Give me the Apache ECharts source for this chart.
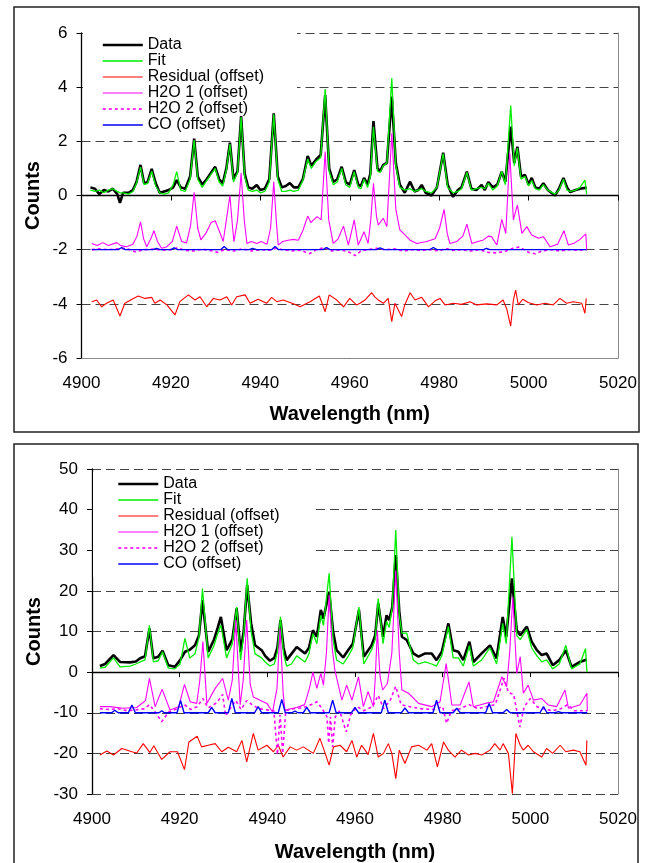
<!DOCTYPE html>
<html>
<head>
<meta charset="utf-8">
<script src="https://cdn.jsdelivr.net/npm/echarts@6/dist/echarts.min.js"></script>
<style>
html,body{margin:0;padding:0;background:#fff;}
#chart{width:647px;height:863px;}
</style>
</head>
<body>
<div id="chart"></div>
<script>
// ---------- data (wavelength nm, counts) ----------
const seriesNames = ['Data', 'Fit', 'Residual (offset)', 'H2O 1 (offset)', 'H2O 2 (offset)', 'CO (offset)'];
const xTicks = { min: 4900, max: 5020, step: 20 };
const topYTicks = { min: -6, max: 6, step: 2 };
const bottomYTicks = { min: -30, max: 50, step: 10 };

// ----- top panel -----
const topData = [[4902,0.30],[4903,0.25],[4904,0.05],[4905,0.2],[4906,0.15],[4907,0.25],[4908,0.05],[4908.6,-0.27],[4909.3,0.1],[4910.5,0.1],[4911.5,0.2],[4912.3,0.5],[4913.2,1.13],[4914,0.45],[4914.8,0.5],[4915.7,0.98],[4916.6,0.45],[4917.5,0.1],[4918.5,0.15],[4919.5,0.2],[4920.5,0.3],[4921.3,0.57],[4922.2,0.3],[4923.2,0.25],[4924.3,0.7],[4925.2,2.1],[4926,0.7],[4927,0.4],[4928,0.6],[4929.9,1.06],[4930.8,0.6],[4931.6,0.45],[4932.4,1.0],[4933.2,1.95],[4934,0.6],[4934.9,0.9],[4935.7,2.93],[4936.5,0.8],[4937.3,0.3],[4938.2,0.25],[4939.2,0.39],[4940,0.2],[4941,0.25],[4942,0.6],[4943,3.03],[4943.9,0.7],[4944.8,0.3],[4945.7,0.35],[4946.6,0.46],[4947.5,0.3],[4948.5,0.3],[4949.5,0.6],[4950.6,1.46],[4951.4,1.1],[4952.4,1.31],[4953.5,1.5],[4954.5,3.71],[4955.4,1.0],[4956.3,0.5],[4957.2,0.6],[4958.2,1.06],[4959.1,0.5],[4960,0.4],[4961,0.94],[4961.9,0.4],[4962.5,0.35],[4963.2,0.65],[4964,0.4],[4964.6,0.8],[4965.3,2.75],[4966.2,1.0],[4966.8,0.9],[4967.5,1.13],[4968.3,1.2],[4969.4,3.65],[4970.3,1.2],[4971.2,0.4],[4972.3,0.1],[4973.5,0.51],[4974.5,0.15],[4975.3,0.2],[4976.1,0.39],[4977,0.1],[4978.3,0.0],[4979.5,0.3],[4980.9,1.58],[4981.9,0.4],[4983.1,-0.05],[4984.2,0.2],[4985,0.3],[4986.2,0.88],[4987.2,0.25],[4988.3,0.2],[4989.5,0.39],[4990.2,0.2],[4991,0.5],[4992,0.3],[4993,0.4],[4994,0.88],[4994.8,0.5],[4996,2.54],[4996.8,1.2],[4997.5,1.8],[4998.3,0.7],[4999.2,0.76],[5000,0.4],[5000.7,0.65],[5001.5,0.3],[5002.4,0.25],[5003.3,0.45],[5004.3,0.2],[5005.9,0.0],[5006.8,0.25],[5007.8,0.65],[5008.6,0.3],[5009.3,0.13],[5010.5,0.2],[5011.5,0.25],[5013,0.29]];
const topFit = [[4902,0.2],[4903,0.15],[4904,0.2],[4905,0.1],[4906,0.2],[4907,0.25],[4908,0.15],[4908.6,0.1],[4909.3,0.1],[4910.5,0.05],[4911.5,0.15],[4912.3,0.45],[4913.2,1.05],[4914,0.4],[4914.8,0.45],[4915.7,0.9],[4916.6,0.35],[4917.5,0.1],[4918.5,0.05],[4919.5,0.1],[4920.5,0.4],[4921.3,0.88],[4922.2,0.2],[4923.2,0.15],[4924.3,0.6],[4925.2,2.05],[4926,0.6],[4927,0.3],[4928,0.55],[4929.9,1.0],[4930.8,0.5],[4931.6,0.35],[4932.4,0.95],[4933.2,1.9],[4934,0.5],[4934.9,0.85],[4935.7,2.9],[4936.5,0.7],[4937.3,0.2],[4938.2,0.15],[4939.2,0.2],[4940,0.1],[4941,0.15],[4942,0.5],[4943,3.0],[4943.9,0.6],[4944.8,0.15],[4945.7,0.15],[4946.6,0.2],[4947.5,0.15],[4948.5,0.2],[4949.5,0.55],[4950.6,1.35],[4951.4,1.0],[4952.4,1.25],[4953.5,1.4],[4954.5,3.93],[4955.4,0.9],[4956.3,0.4],[4957.2,0.5],[4958.2,1.0],[4959.1,0.4],[4960,0.3],[4961,0.88],[4961.9,0.3],[4962.5,0.25],[4963.2,0.6],[4964,0.3],[4964.6,0.7],[4965.3,2.54],[4966.2,0.9],[4966.8,0.85],[4967.5,1.1],[4968.3,1.2],[4969.4,4.33],[4970.3,1.1],[4971.2,0.3],[4972.3,0.2],[4973.5,0.25],[4974.5,0.15],[4975.3,0.2],[4976.1,0.25],[4977,0.15],[4978.3,0.1],[4979.5,0.3],[4980.9,1.55],[4981.9,0.3],[4983.1,0.1],[4984.2,0.15],[4985,0.25],[4986.2,0.85],[4987.2,0.2],[4988.3,0.25],[4989.5,0.3],[4990.2,0.25],[4991,0.45],[4992,0.2],[4993,0.35],[4994,0.9],[4994.8,0.4],[4996,3.32],[4996.8,1.1],[4997.5,1.75],[4998.3,0.6],[4999.2,0.7],[5000,0.35],[5000.7,0.55],[5001.5,0.25],[5002.4,0.2],[5003.3,0.4],[5004.3,0.2],[5005.9,0.05],[5006.8,0.2],[5007.8,0.6],[5008.6,0.2],[5009.3,0.15],[5010.5,0.2],[5011.5,0.3],[5012.6,0.57],[5013,0.05]];
const topResidual = [[4902.3,-3.92],[4903.4,-3.86],[4904.5,-4.11],[4905.6,-3.98],[4907.1,-3.86],[4908.6,-4.45],[4909.7,-3.98],[4911.6,-3.8],[4912.7,-3.71],[4914.2,-3.8],[4915.7,-3.76],[4916.4,-3.98],[4917.6,-3.86],[4919.1,-4.04],[4920.9,-4.41],[4922,-3.92],[4923.9,-3.67],[4925.4,-3.86],[4926.5,-3.74],[4928,-4.11],[4929.5,-3.8],[4931,-3.86],[4932.5,-3.74],[4933.6,-4.04],[4934.7,-3.74],[4936.6,-3.67],[4937.7,-3.98],[4939.5,-3.83],[4941.4,-3.98],[4942.5,-3.76],[4943.7,-3.92],[4945.1,-3.86],[4947.4,-4.0],[4948.9,-4.11],[4951.1,-3.92],[4953.2,-3.71],[4954.5,-4.29],[4955.4,-3.67],[4957.1,-3.86],[4958.6,-4.11],[4960,-3.8],[4961.5,-4.04],[4962.3,-3.98],[4963.4,-3.86],[4964.9,-3.59],[4965.6,-3.74],[4966.4,-3.86],[4967.5,-3.98],[4968.6,-3.8],[4969.4,-4.66],[4970.1,-3.98],[4971.6,-4.47],[4972.3,-4.04],[4973.5,-3.59],[4974.6,-3.86],[4976.1,-3.76],[4977.6,-4.11],[4979.1,-3.89],[4980.2,-3.8],[4981.3,-4.04],[4983.2,-3.98],[4985,-4.02],[4986.9,-3.92],[4988.4,-4.04],[4990.6,-4.0],[4992.9,-4.04],[4994.3,-3.86],[4995.1,-4.18],[4996,-4.82],[4996.6,-3.86],[4997.1,-3.49],[4997.7,-4.04],[4998.7,-3.83],[4999.9,-3.95],[5001.8,-4.04],[5003.7,-3.98],[5005.5,-4.04],[5007,-3.8],[5008.5,-3.98],[5010,-3.92],[5011.9,-3.98],[5012.6,-4.35],[5012.9,-3.8]];
const topH2O1 = [[4902.3,-1.77],[4903.5,-1.85],[4904.8,-1.74],[4906,-1.85],[4907.9,-1.74],[4908.8,-1.85],[4910.1,-1.89],[4911.5,-1.8],[4912.4,-1.5],[4913.2,-0.97],[4913.9,-1.6],[4914.6,-1.89],[4915.5,-1.6],[4916.2,-1.3],[4917,-1.7],[4917.9,-1.95],[4919,-1.9],[4920.3,-1.7],[4921.3,-1.13],[4922.4,-1.7],[4923.5,-1.75],[4924.4,-1.1],[4925.2,0.12],[4926,-1.2],[4926.7,-1.64],[4927.8,-1.4],[4929,-1.0],[4929.9,-0.93],[4930.8,-1.3],[4931.7,-1.7],[4932.4,-0.9],[4933.2,0.0],[4933.8,-1.2],[4934.1,-1.7],[4934.9,-0.9],[4935.7,0.83],[4936.4,-0.9],[4937,-1.77],[4938,-1.7],[4939.2,-1.77],[4940.2,-1.7],[4941.5,-1.8],[4942.3,-1.2],[4943,0.51],[4943.6,-1.0],[4944,-1.83],[4945,-1.7],[4946.2,-1.65],[4947.4,-1.62],[4948.5,-1.65],[4949.5,-1.3],[4950.6,-0.76],[4951.3,-1.0],[4951.9,-0.9],[4952.7,-0.78],[4953.6,-0.9],[4954.5,1.62],[4955.3,-0.9],[4956.3,-1.77],[4957.4,-1.6],[4958.6,-1.13],[4959.7,-1.83],[4961,-0.9],[4961.9,-1.83],[4963.2,-1.34],[4964.1,-1.77],[4964.7,-0.9],[4965.3,0.45],[4966,-0.8],[4966.4,-1.09],[4967.5,-0.84],[4968.3,-1.15],[4969.4,2.3],[4970.3,-0.5],[4971.2,-1.27],[4972,-1.4],[4973.5,-1.65],[4975,-1.77],[4977.2,-1.7],[4979.1,-1.6],[4980.1,-1.2],[4981.1,-0.51],[4981.8,-1.4],[4982.4,-1.77],[4983.9,-1.7],[4985.3,-1.5],[4986.2,-1.06],[4987.3,-1.77],[4988.7,-1.7],[4989.9,-1.64],[4991,-1.5],[4991.7,-1.52],[4992.9,-1.83],[4994,-0.88],[4994.9,-1.4],[4995.8,1.56],[4996.6,-0.9],[4997.5,-0.35],[4998.5,-1.4],[4999.6,-1.15],[5000.7,-1.46],[5002.2,-1.58],[5003.3,-1.52],[5004.8,-1.89],[5006.5,-1.8],[5007.9,-1.3],[5008.9,-1.83],[5010.3,-1.75],[5011.5,-1.62],[5012.8,-1.42],[5013,-2.0]];
const topH2O2 = [[4902.3,-2.0],[4904,-1.97],[4906,-2.0],[4908,-1.97],[4910,-1.95],[4912,-2.08],[4914,-2.0],[4916,-1.98],[4918,-2.02],[4920,-2.0],[4921.5,-1.93],[4923,-2.02],[4925,-2.05],[4927,-1.98],[4929,-2.04],[4930.5,-2.1],[4932,-2.0],[4934,-2.05],[4936,-1.97],[4938,-2.05],[4940,-2.0],[4942,-2.02],[4943.5,-1.95],[4945,-2.0],[4947,-2.05],[4949,-2.02],[4951,-2.15],[4952.5,-2.0],[4954.5,-1.92],[4956,-2.05],[4958,-2.0],[4960,-2.1],[4961.2,-2.22],[4962.5,-2.05],[4964,-2.0],[4966,-1.95],[4968,-2.0],[4970,-1.97],[4972,-2.05],[4974,-2.0],[4976,-2.03],[4978,-2.0],[4980,-2.05],[4981.5,-1.95],[4983,-2.03],[4985,-2.0],[4987,-2.05],[4989,-2.0],[4991,-2.1],[4993,-2.12],[4995,-2.05],[4996.5,-1.95],[4998,-1.9],[5000,-2.1],[5001.5,-2.15],[5003,-2.05],[5005,-2.0],[5007,-2.05],[5009,-2.0],[5011,-2.02],[5013,-2.0]];
const topCO = [[4902.3,-2.0],[4908.2,-2.0],[4909,-1.92],[4909.8,-2.0],[4916,-2.0],[4916.8,-1.95],[4917.6,-2.0],[4920,-2.0],[4920.7,-1.93],[4921.5,-2.0],[4931.1,-2.0],[4931.9,-1.88],[4932.7,-2.0],[4937.5,-2.0],[4938.3,-1.95],[4939.1,-2.0],[4942.5,-2.0],[4943.3,-1.88],[4944.1,-2.0],[4954,-2.0],[4954.8,-1.92],[4955.6,-2.0],[4966,-2.0],[4966.8,-1.93],[4967.6,-2.0],[4977.9,-2.0],[4978.7,-1.92],[4979.5,-2.0],[4989.9,-2.0],[4990.6,-1.95],[4991.3,-2.0],[5013,-2.0]];

// ----- bottom panel -----
const bottomData = [[4901.8,1.5],[4903,2.0],[4904.9,4.2],[4906.4,2.5],[4908.7,2.4],[4910,2.6],[4911,3.4],[4912.1,3.9],[4913.1,10.75],[4914,3.4],[4915.1,3.8],[4916.1,5.25],[4917.4,1.7],[4918.9,1.3],[4920.1,2.95],[4921.2,5.0],[4922.3,5.5],[4923.5,6.6],[4924.4,9.0],[4925.2,17.7],[4926.5,5.0],[4927.8,7.9],[4928.7,11.0],[4929.4,13.6],[4930.7,5.4],[4932,8.0],[4933,15.7],[4933.9,5.0],[4934.6,10.0],[4935.4,21.4],[4936.3,12.0],[4937.2,6.6],[4938.7,5.4],[4939.5,4.0],[4940.6,2.8],[4941.6,3.5],[4942.3,6.0],[4943,12.8],[4943.7,6.0],[4944.4,2.95],[4945.5,4.5],[4946.7,6.2],[4948.6,4.6],[4949.5,6.0],[4950.4,10.3],[4951.3,8.7],[4952.2,15.3],[4952.8,13.2],[4954.1,19.8],[4955,10.0],[4955.8,5.4],[4957.3,3.6],[4958.5,5.5],[4959.5,7.0],[4960.9,15.3],[4962,3.8],[4963.8,6.6],[4964.6,9.0],[4965.3,16.9],[4966.4,8.7],[4967.2,14.0],[4967.8,12.8],[4968.5,16.0],[4969.3,28.8],[4970.1,15.0],[4970.7,8.7],[4971.8,7.9],[4973.3,4.6],[4974.5,3.8],[4976,4.6],[4977.5,4.6],[4978.6,2.95],[4979.8,5.0],[4981.3,12.0],[4982.4,5.4],[4983.6,5.0],[4984.7,2.95],[4986.1,7.5],[4987,2.5],[4988.9,4.6],[4990.8,6.6],[4992.3,3.4],[4993.7,13.6],[4994.5,8.7],[4995.8,23.1],[4996.9,10.3],[4997.7,9.1],[4999.2,11.2],[5000.3,7.5],[5001.5,5.4],[5002.6,4.2],[5003.7,4.6],[5005.1,1.7],[5006.6,2.95],[5008.1,5.4],[5009.4,1.3],[5011.3,2.5],[5012.9,3.1]];
const bottomFit = [[4901.8,1.0],[4903,1.2],[4904.9,3.5],[4906.4,1.3],[4908.7,1.5],[4910,2.0],[4911,2.5],[4912.1,3.0],[4913.1,11.5],[4914,2.5],[4915.1,2.8],[4916.1,5.0],[4917.4,1.0],[4918.9,0.8],[4920.1,2.0],[4921.2,8.3],[4922.3,3.5],[4923.5,4.5],[4924.4,8.5],[4925.2,20.6],[4926.5,3.5],[4927.8,6.5],[4928.7,9.5],[4929.4,11.6],[4930.7,3.5],[4932,7.0],[4933,16.0],[4933.9,3.0],[4934.6,9.0],[4935.4,23.1],[4936.3,10.0],[4937.2,4.5],[4938.7,3.5],[4939.5,2.5],[4940.6,1.5],[4941.6,2.0],[4942.3,5.0],[4943,13.6],[4943.7,4.5],[4944.4,1.5],[4945.5,2.0],[4946.7,4.0],[4948.6,2.5],[4949.5,4.5],[4950.4,9.5],[4951.3,7.0],[4952.2,14.0],[4952.8,11.5],[4954.1,24.3],[4955,8.0],[4955.8,3.0],[4957.3,2.0],[4958.5,4.0],[4959.5,6.0],[4960.9,16.0],[4962,2.0],[4963.8,5.5],[4964.6,8.0],[4965.3,18.1],[4966.4,7.0],[4967.2,12.5],[4967.8,11.0],[4968.5,16.0],[4969.3,35.0],[4970.1,14.0],[4970.7,9.6],[4971.8,9.6],[4973.3,3.0],[4974.5,2.0],[4976,2.5],[4977.5,2.0],[4978.6,1.5],[4979.8,4.0],[4981.3,11.2],[4982.4,3.5],[4983.6,3.5],[4984.7,1.5],[4986.1,6.5],[4987,1.5],[4988.9,3.0],[4990.8,6.0],[4992.3,2.0],[4993.7,12.0],[4994.5,7.0],[4995.8,33.3],[4996.9,9.0],[4997.7,8.0],[4999.2,10.5],[5000.3,6.0],[5001.5,4.0],[5002.6,2.5],[5003.7,3.0],[5005.1,0.8],[5006.6,2.0],[5008.1,6.6],[5009.4,0.8],[5011.3,2.0],[5012.6,5.8],[5012.9,0.0]];
const bottomResidual = [[4901.8,-20.4],[4903.4,-19.4],[4904.9,-20.4],[4906.8,-18.8],[4909.1,-19.6],[4910.2,-19.9],[4911.7,-17.6],[4913.2,-19.8],[4914.1,-18.1],[4915.9,-21.5],[4917.8,-19.6],[4919.5,-19.6],[4921.1,-24.0],[4922.1,-17.2],[4924,-15.8],[4925,-18.4],[4926.5,-18.0],[4928.1,-17.6],[4929.6,-19.6],[4931.1,-18.5],[4933,-19.6],[4934.2,-16.8],[4935.3,-22.1],[4936.8,-15.1],[4937.9,-19.2],[4939.9,-18.0],[4941.4,-19.6],[4942.5,-18.0],[4943.6,-20.9],[4945.2,-18.4],[4946.7,-19.2],[4948.2,-18.4],[4950.5,-20.0],[4952,-16.3],[4953.2,-20.0],[4954.1,-22.9],[4955.1,-18.4],[4956.6,-18.0],[4958.1,-19.6],[4959.3,-16.8],[4960.4,-20.9],[4961.5,-18.0],[4962.3,-19.2],[4963,-20.3],[4964.2,-15.1],[4965.3,-20.9],[4966.5,-20.0],[4967.6,-17.6],[4968.4,-20.0],[4969.3,-26.2],[4970.1,-19.2],[4971.4,-22.5],[4972.9,-18.4],[4974.5,-18.0],[4976.4,-19.2],[4977.5,-17.6],[4978.8,-23.3],[4980.2,-17.2],[4981.3,-19.2],[4982.8,-20.9],[4984.3,-19.2],[4985.9,-20.4],[4987.4,-20.0],[4988.9,-20.4],[4990.8,-19.2],[4991.9,-17.6],[4993.1,-19.2],[4993.8,-17.6],[4995,-20.0],[4995.9,-29.9],[4996.7,-15.1],[4997.7,-18.0],[4998.4,-19.2],[4999.5,-18.0],[5000.7,-19.6],[5002.6,-20.9],[5003.7,-18.8],[5005.1,-20.0],[5006.8,-18.0],[5008.1,-19.6],[5009.8,-19.2],[5011.3,-19.6],[5012.7,-22.9],[5012.9,-16.8]];
const bottomH2O1 = [[4901.8,-8.5],[4904.1,-8.5],[4907.1,-8.9],[4910.2,-8.7],[4912.2,-7.0],[4913.1,-1.56],[4914.4,-8.5],[4916,-4.2],[4917.8,-9.35],[4919.8,-8.5],[4921.1,-3.0],[4922.4,-7.3],[4923.9,-7.7],[4924.6,-2.0],[4925.3,7.5],[4926.2,-7.7],[4928.1,-4.0],[4929.8,-1.56],[4931.1,-6.9],[4932,-2.0],[4932.8,12.8],[4933.8,-8.1],[4934.5,-2.0],[4935.3,12.8],[4936.1,-3.0],[4936.8,-6.1],[4939.9,-7.7],[4941.2,-9.8],[4942.2,-4.0],[4942.9,10.75],[4943.6,-5.0],[4944,-9.35],[4946.7,-8.7],[4948.5,-8.0],[4949.6,-4.0],[4950.4,0.0],[4951.3,-4.0],[4952.2,-0.3],[4952.8,-3.2],[4953.5,5.0],[4954.1,19.0],[4954.8,6.0],[4955.4,0.5],[4957,-6.9],[4958.1,-3.2],[4959.3,-6.9],[4960.8,-1.15],[4961.9,-8.5],[4963,-4.8],[4964.2,-8.5],[4964.6,-2.0],[4965.1,10.3],[4965.7,-1.0],[4966.3,-4.4],[4967.4,-2.8],[4968.4,4.6],[4969.3,25.1],[4970.1,4.6],[4970.7,-4.4],[4972.2,-5.2],[4974.5,-7.7],[4977.5,-8.5],[4979.4,-7.3],[4980.8,2.1],[4982.1,-8.1],[4984,-8.1],[4986,-2.4],[4987,-8.5],[4989.7,-7.7],[4991.6,-7.3],[4993.5,-1.15],[4994.6,-3.6],[4995.3,5.0],[4996,18.5],[4996.9,-0.3],[4997.7,3.8],[4998.4,-5.2],[4999.5,-3.2],[5000.7,-6.9],[5002.6,-6.5],[5004.1,-8.1],[5006,-8.5],[5007.9,-4.4],[5008.7,-8.9],[5011.3,-8.1],[5012.9,-5.2],[5013,-9.5]];
const bottomH2O2 = [[4901.8,-9.0],[4904,-9.2],[4906,-9.0],[4908,-9.5],[4910,-9.3],[4912,-9.0],[4913.1,-8.0],[4914.2,-9.5],[4915.9,-12.2],[4917.5,-9.8],[4919.5,-9.0],[4921.1,-8.0],[4922.5,-9.2],[4924,-8.5],[4925.3,-6.5],[4926.5,-8.8],[4928.5,-7.5],[4929.8,-5.5],[4930.5,-10.7],[4931.5,-9.0],[4932.8,-7.0],[4934,-9.2],[4935.3,-7.0],[4936.5,-8.0],[4938,-9.0],[4940,-9.3],[4941.5,-9.5],[4942.3,-20.3],[4942.9,-10.5],[4943.5,-20.0],[4944.2,-9.5],[4946,-9.0],[4948,-8.8],[4950,-8.0],[4951.3,-7.3],[4952.5,-9.0],[4953.6,-11.0],[4954,-17.5],[4954.4,-11.0],[4954.9,-18.4],[4955.5,-11.0],[4956.5,-9.5],[4958,-14.7],[4959,-10.5],[4960.5,-8.5],[4962,-9.5],[4964,-8.5],[4965.3,-5.7],[4966.5,-9.0],[4968,-7.0],[4969.3,-3.5],[4970.5,-8.0],[4972.5,-8.5],[4975,-9.0],[4978,-9.2],[4980,-8.5],[4980.9,-12.6],[4982,-9.5],[4984,-9.0],[4986,-8.0],[4988,-9.0],[4990,-8.5],[4992,-8.0],[4994,-1.5],[4995,-5.0],[4996.2,-5.5],[4997.6,-13.5],[4998.6,-8.5],[5000,-6.5],[5001.5,-8.5],[5003,-9.0],[5005,-9.5],[5007,-9.0],[5008.5,-8.0],[5010,-9.5],[5012,-9.5],[5013,-9.5]];
const bottomCO = [[4901.8,-10],[4904.5,-10],[4905.2,-9.4],[4906,-10],[4908.3,-10],[4909.1,-8.1],[4909.9,-10],[4915.3,-10],[4915.9,-9.5],[4916.5,-10],[4919.4,-10],[4920.2,-7.0],[4921,-10],[4926.5,-10],[4927.3,-8.7],[4928.1,-10],[4931.1,-10],[4931.9,-6.5],[4932.7,-10],[4937.1,-10],[4937.9,-8.5],[4938.7,-10],[4942.5,-10],[4943.3,-6.7],[4944.1,-10],[4945.6,-10],[4946.3,-9.6],[4947,-10],[4948.2,-10],[4949,-8.7],[4949.8,-10],[4954.1,-10],[4954.9,-6.9],[4955.7,-10],[4959.2,-10],[4960,-8.7],[4960.8,-10],[4966,-10],[4966.8,-6.9],[4967.6,-10],[4970.6,-10],[4971.4,-8.8],[4972.2,-10],[4977.8,-10],[4978.6,-6.9],[4979.4,-10],[4982.4,-10],[4983.2,-8.9],[4984,-10],[4989.8,-10],[4990.6,-7.7],[4991.4,-10],[4993.8,-10],[4994.6,-9.2],[4995.4,-10],[5002.2,-10],[5003,-8.5],[5003.8,-10],[5005.7,-10],[5006.4,-9.7],[5007.1,-10],[5013,-10]];

// ---------- chart ----------
const FONT = '"Liberation Sans", Arial, sans-serif';
const STYLES = [
  { color: '#000000', width: 2.6, type: 'solid' },
  { color: '#00ee00', width: 1.3, type: 'solid' },
  { color: '#ff0000', width: 1.1, type: 'solid' },
  { color: '#ff00ff', width: 1.1, type: 'solid' },
  { color: '#ff00ff', width: 1.6, type: [3, 3] },
  { color: '#0000ff', width: 1.4, type: 'solid' }
];

function panelAxes(gi, yT, opts) {
  const xs = [
    { gridIndex: gi, type: 'value', min: xTicks.min, max: xTicks.max, interval: xTicks.step, position: 'bottom',
      axisLine: { show: opts.solidBottom, onZero: false, lineStyle: { color: '#8a8a8a', width: 1 } },
      axisTick: { show: false },
      axisLabel: { fontSize: 17, color: '#000', margin: opts.xLabelMargin, fontFamily: FONT, formatter: v => String(v) },
      splitLine: { show: false },
      name: 'Wavelength (nm)', nameLocation: 'middle', nameGap: opts.xNameGap, nameMoveOverlap: false,
      nameTextStyle: { fontSize: 20, fontWeight: 'bold', color: '#000', fontFamily: FONT } },
    { gridIndex: gi, type: 'value', min: xTicks.min, max: xTicks.max, interval: xTicks.step, position: 'bottom',
      axisLine: { show: true, onZero: true, onZeroAxisIndex: gi * 2, lineStyle: { color: '#000', width: 1.3 } },
      axisTick: { show: true, inside: false, length: 5, lineStyle: { color: '#000', width: 1 } },
      axisLabel: { show: false }, splitLine: { show: false } }
  ];
  const ys = [
    { gridIndex: gi, type: 'value', min: yT.min, max: yT.max, interval: yT.step, position: 'left',
      axisLine: { show: true, onZero: false, lineStyle: { color: '#000', width: 1.3 } },
      axisTick: { show: true, inside: false, length: 5, lineStyle: { color: '#000', width: 1 } },
      axisLabel: { fontSize: 17, color: '#000', margin: 14, fontFamily: FONT, formatter: v => String(v) },
      splitLine: { show: true, lineStyle: { color: '#444', width: 1, type: [9, 5] } },
      name: 'Counts', nameLocation: 'middle', nameGap: opts.yNameGap, nameRotate: 90, nameMoveOverlap: false,
      nameTextStyle: { fontSize: 20, fontWeight: 'bold', color: '#000', fontFamily: FONT } },
    { gridIndex: gi, type: 'value', min: yT.min, max: yT.max, interval: yT.step, position: 'right',
      axisLine: { show: true, onZero: false, lineStyle: { color: '#8a8a8a', width: 1 } },
      axisTick: { show: false }, axisLabel: { show: false }, splitLine: { show: false } }
  ];
  return { xs, ys };
}

const topPanel = panelAxes(0, topYTicks, { solidBottom: true, xLabelMargin: 17, xNameGap: 46, yNameGap: 38 });
const bottomPanel = panelAxes(1, bottomYTicks, { solidBottom: false, xLabelMargin: 17, xNameGap: 48, yNameGap: 48 });

function mkSeries(arrs, xi, yi) {
  return arrs.map((d, i) => ({
    type: 'line', name: seriesNames[i], data: d, xAxisIndex: xi, yAxisIndex: yi,
    symbol: 'none', showSymbol: false, smooth: false, animation: false, clip: true,
    lineStyle: { color: STYLES[i].color, width: STYLES[i].width, type: STYLES[i].type },
    itemStyle: { color: STYLES[i].color },
    emphasis: { disabled: true }
  }));
}

function mkLegend(left, topPx, pad) {
  return {
    orient: 'vertical', left: left, top: topPx, padding: pad, itemGap: 0, itemWidth: 40, itemHeight: 10,
    backgroundColor: '#ffffff', z: 1, selectedMode: false,
    lineStyle: { width: 'inherit' },
    itemStyle: { opacity: 0, borderWidth: 0 },
    textStyle: { fontSize: 16, color: '#000', fontFamily: FONT, lineHeight: 15.6 },
    data: seriesNames
  };
}

const chart = echarts.init(document.getElementById('chart'), null, { renderer: 'canvas' });
chart.setOption({
  animation: false,
  backgroundColor: '#ffffff',
  grid: [
    { left: 81.5, top: 33, width: 536.5, height: 325, outerBoundsMode: 'none', containLabel: false },
    { left: 92, top: 469, width: 526, height: 325, outerBoundsMode: 'none', containLabel: false }
  ],
  xAxis: topPanel.xs.concat(bottomPanel.xs),
  yAxis: topPanel.ys.concat(bottomPanel.ys),
  legend: [
    mkLegend(83, 32, [5, 33, 5, 18.5]),
    mkLegend(93, 472, [4, 33, 5, 24])
  ],
  graphic: [
    { type: 'rect', silent: true, z: 100, shape: { x: 14, y: 7, width: 625, height: 425 }, style: { fill: null, stroke: '#222', lineWidth: 1.5 } },
    { type: 'rect', silent: true, z: 100, shape: { x: 14, y: 444, width: 624, height: 440 }, style: { fill: null, stroke: '#222', lineWidth: 1.5 } }
  ],
  series: mkSeries([topData, topFit, topResidual, topH2O1, topH2O2, topCO], 0, 0)
    .concat(mkSeries([bottomData, bottomFit, bottomResidual, bottomH2O1, bottomH2O2, bottomCO], 2, 2))
});
</script>
</body>
</html>
